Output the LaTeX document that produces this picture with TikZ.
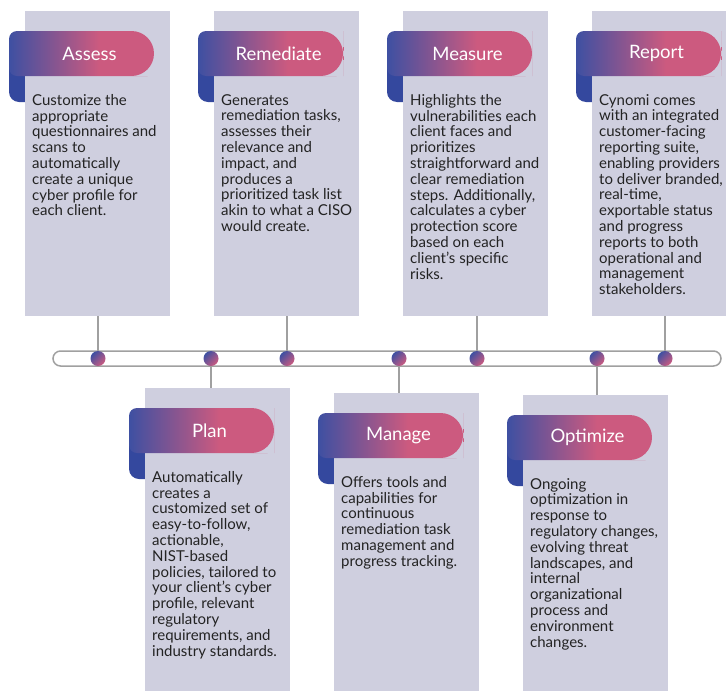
\documentclass[tikz,border=0pt]{standalone}
\usepackage{fontspec}
\setmainfont{Lato}

\definecolor{cardgray}{RGB}{207,207,223}
\definecolor{tabblue}{RGB}{62,80,162}
\definecolor{tabpink}{RGB}{204,90,127}
\definecolor{foldblue}{RGB}{52,72,158}
\definecolor{linegray}{RGB}{160,160,160}
\definecolor{textdark}{RGB}{35,35,35}
\pgfdeclarehorizontalshading{tabshade}{100bp}{color(0bp)=(tabblue); color(25bp)=(tabblue); color(56bp)=(tabpink); color(100bp)=(tabpink)}

\begin{document}
\begin{tikzpicture}[x=1pt, y=-1pt,
  stagecard/.style={fill=cardgray, anchor=north west, minimum width=145pt, inner sep=0pt},
  stagefold/.style={fill=foldblue, rounded corners=10pt},
  stagetab/.style={shade, shading=tabshade},
  stagetitle/.style={text=white, inner sep=0pt, font=\fontsize{18.5}{21}\selectfont},
  stagetext/.style={anchor=north west, align=left, inner sep=0pt, text=textdark, font=\fontsize{15}{15.8}\selectfont},
  stagelink/.style={draw=linegray, line width=1.8pt},
  stagedot/.style={circle, minimum size=15pt, inner sep=0pt, left color=tabblue, right color=tabpink, shading angle=45}]
\useasboundingbox (0,0) rectangle (726,691);

% top row
\begin{scope}[shift={(25,11)}]
\fill[stagefold] (-16,40) rectangle (10,91);
\node[stagecard, minimum height=305pt] (assess) at (0,0) {};
\path[stagetab] (-16,42.5) [rounded corners=8pt] |- (100,20) [rounded corners=22.5pt] -| (129,42.5) |- (100,65) [rounded corners=8pt] -| (-16,42.5) -- cycle;
\node[stagetitle] (assess-title) at (64.5,42.5) {Assess};
\node[stagetext] (assess-text) at (7,83) {Customize the\\appropriate\\questionnaires and\\scans to\\automatically\\create a unique\\cyber profile for\\each client.};
\end{scope}

\begin{scope}[shift={(214,11)}]
\fill[stagefold] (-16,40) rectangle (10,91);
\node[stagecard, minimum height=305pt] (remediate) at (0,0) {};
\path[stagetab] (-16,42.5) [rounded corners=8pt] |- (100,20) [rounded corners=22.5pt] -| (129,42.5) |- (100,65) [rounded corners=8pt] -| (-16,42.5) -- cycle;
\node[stagetitle] (remediate-title) at (64.5,42.5) {Remediate};
\node[stagetext] (remediate-text) at (7,83) {Generates\\remediation tasks,\\assesses their\\relevance and\\impact, and\\produces a\\prioritized task list\\akin to what a CISO\\would create.};
\end{scope}

\begin{scope}[shift={(403,11)}]
\fill[stagefold] (-16,40) rectangle (10,91);
\node[stagecard, minimum height=305pt] (measure) at (0,0) {};
\path[stagetab] (-16,42.5) [rounded corners=8pt] |- (100,20) [rounded corners=22.5pt] -| (129,42.5) |- (100,65) [rounded corners=8pt] -| (-16,42.5) -- cycle;
\node[stagetitle] (measure-title) at (64.5,42.5) {Measure};
\node[stagetext] (measure-text) at (7,83) {Highlights the\\vulnerabilities each\\client faces and\\prioritizes\\straightforward and\\clear remediation\\steps. Additionally,\\calculates a cyber\\protection score\\based on each\\client’s specific\\risks.};
\end{scope}

\begin{scope}[shift={(592,11)}]
\fill[stagefold] (-16,40) rectangle (10,91);
\node[stagecard, minimum height=305pt] (report) at (0,0) {};
\path[stagetab] (-16,42.5) [rounded corners=8pt] |- (100,20) [rounded corners=22.5pt] -| (129,42.5) |- (100,65) [rounded corners=8pt] -| (-16,42.5) -- cycle;
\node[stagetitle] (report-title) at (64.5,42.5) {Report};
\node[stagetext] (report-text) at (7,83) {Cynomi comes\\with an integrated\\customer-facing\\reporting suite,\\enabling providers\\to deliver branded,\\real-time,\\exportable status\\and progress\\reports to both\\operational and\\management\\stakeholders.};
\end{scope}

% bottom row
\begin{scope}[shift={(145,388)}]
\fill[stagefold] (-16,40) rectangle (10,91);
\node[stagecard, minimum height=303pt] (plan) at (0,0) {};
\path[stagetab] (-16,42.5) [rounded corners=8pt] |- (100,20) [rounded corners=22.5pt] -| (129,42.5) |- (100,65) [rounded corners=8pt] -| (-16,42.5) -- cycle;
\node[stagetitle] (plan-title) at (64.5,42.5) {Plan};
\node[stagetext] (plan-text) at (7,83) {Automatically\\creates a\\customized set of\\easy-to-follow,\\actionable,\\NIST-based\\policies, tailored to\\your client’s cyber\\profile, relevant\\regulatory\\requirements, and\\industry standards.};
\end{scope}

\begin{scope}[shift={(334,393)}]
\fill[stagefold] (-16,40) rectangle (10,91);
\node[stagecard, minimum height=298pt] (manage) at (0,0) {};
\path[stagetab] (-16,42.5) [rounded corners=8pt] |- (100,20) [rounded corners=22.5pt] -| (129,42.5) |- (100,65) [rounded corners=8pt] -| (-16,42.5) -- cycle;
\node[stagetitle] (manage-title) at (64.5,42.5) {Manage};
\node[stagetext] (manage-text) at (7,83) {Offers tools and\\capabilities for\\continuous\\remediation task\\management and\\progress tracking.};
\end{scope}

\begin{scope}[shift={(523,395)}]
\fill[stagefold] (-16,40) rectangle (10,91);
\node[stagecard, minimum height=296pt] (optimize) at (0,0) {};
\path[stagetab] (-16,42.5) [rounded corners=8pt] |- (100,20) [rounded corners=22.5pt] -| (129,42.5) |- (100,65) [rounded corners=8pt] -| (-16,42.5) -- cycle;
\node[stagetitle] (optimize-title) at (64.5,42.5) {Optimize};
\node[stagetext] (optimize-text) at (7,83) {Ongoing\\optimization in\\response to\\regulatory changes,\\evolving threat\\landscapes, and\\internal\\organizational\\process and\\environment\\changes.};
\end{scope}

% timeline
\draw[draw=linegray, line width=1.5pt, fill=white, rounded corners=7.5pt] (53,351) rectangle (721,366);
\node[stagedot] (assess-dot) at (98,358.5) {};
\node[stagedot] (plan-dot) at (211,358.5) {};
\node[stagedot] (remediate-dot) at (287,358.5) {};
\node[stagedot] (manage-dot) at (399,358.5) {};
\node[stagedot] (measure-dot) at (477,358.5) {};
\node[stagedot] (optimize-dot) at (597,358.5) {};
\node[stagedot] (report-dot) at (665,358.5) {};

\draw[stagelink] (assess.south -| assess-dot) -- (assess-dot.north);
\draw[stagelink] (remediate.south -| remediate-dot) -- (remediate-dot.north);
\draw[stagelink] (measure.south -| measure-dot) -- (measure-dot.north);
\draw[stagelink] (report.south -| report-dot) -- (report-dot.north);
\draw[stagelink] (plan-dot.south) -- (plan-dot |- plan.north);
\draw[stagelink] (manage-dot.south) -- (manage-dot |- manage.north);
\draw[stagelink] (optimize-dot.south) -- (optimize-dot |- optimize.north);
\end{tikzpicture}
\end{document}
